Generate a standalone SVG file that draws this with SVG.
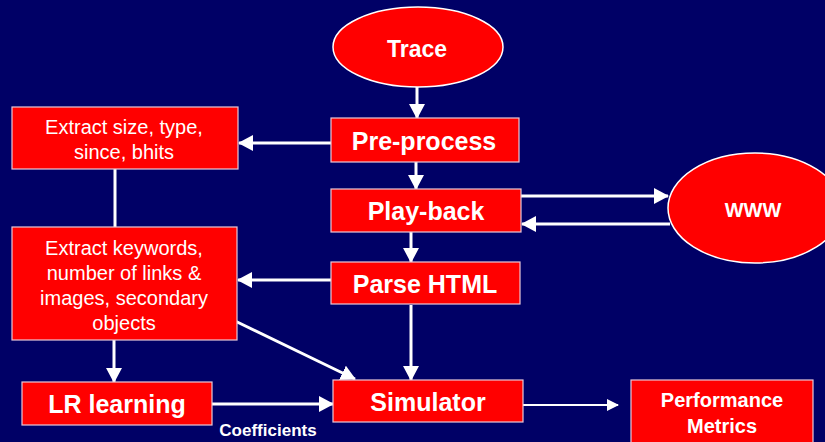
<svg xmlns="http://www.w3.org/2000/svg" width="825" height="442" viewBox="0 0 825 442">
  <style>
    .box { fill: #ff0000; stroke: #e8c8d8; stroke-width: 1.2; }
    .oval { fill: #ff0000; stroke: #ffffff; stroke-width: 1.5; }
    .t { fill: #ffffff; font-family: "Liberation Sans", Arial, sans-serif; text-anchor: middle; dominant-baseline: central; }
    .b { font-weight: bold; }
    .big { font-size: 25px; font-weight: bold; }
    .reg { font-size: 20px; }
    .wire { stroke: #ffffff; stroke-width: 3; fill: none; }
    .thin { stroke: #ffffff; stroke-width: 2; fill: none; }
  </style>
  <defs>
    <marker id="head" markerUnits="userSpaceOnUse" markerWidth="15" markerHeight="16" refX="14" refY="8" orient="auto">
      <path d="M0,0 L15,8 L0,16 Z" fill="#ffffff"/>
    </marker>
    <marker id="headSmall" markerUnits="userSpaceOnUse" markerWidth="12" markerHeight="12" refX="11" refY="6" orient="auto">
      <path d="M0,0 L12,6 L0,12 Z" fill="#ffffff"/>
    </marker>
  </defs>

  <rect width="825" height="442" fill="#000066"/>

  <g id="connectors">
    <line class="wire" x1="417" y1="87" x2="417" y2="118" marker-end="url(#head)"/>
    <line class="wire" x1="416" y1="162" x2="416" y2="189" marker-end="url(#head)"/>
    <line class="wire" x1="331" y1="143" x2="239" y2="143" marker-end="url(#head)"/>
    <line class="wire" x1="521" y1="196" x2="668" y2="196" marker-end="url(#head)"/>
    <line class="wire" x1="670" y1="224" x2="522" y2="224" marker-end="url(#head)"/>
    <line class="wire" x1="411" y1="232" x2="411" y2="262" marker-end="url(#head)"/>
    <line class="wire" x1="331" y1="280" x2="238" y2="280" marker-end="url(#head)"/>
    <line class="wire" x1="115" y1="169" x2="115" y2="227"/>
    <line class="wire" x1="114" y1="340" x2="114" y2="382" marker-end="url(#head)"/>
    <line class="wire" x1="233" y1="320" x2="355" y2="379" marker-end="url(#head)"/>
    <line class="wire" x1="411" y1="305" x2="411" y2="380" marker-end="url(#head)"/>
    <line class="wire" x1="212" y1="404" x2="333" y2="404" marker-end="url(#head)"/>
    <line class="thin" x1="523" y1="405" x2="618" y2="405" marker-end="url(#headSmall)"/>
    <text class="t b" x="268" y="430" font-size="17">Coefficients</text>
  </g>

  <g id="trace">
    <ellipse class="oval" cx="418" cy="47" rx="85" ry="40"/>
    <text class="t b" x="417" y="49" font-size="23">Trace</text>
  </g>

  <g id="preprocess">
    <rect class="box" x="331" y="118" width="188" height="44"/>
    <text class="t big" x="424" y="141">Pre-process</text>
  </g>

  <g id="playback">
    <rect class="box" x="331" y="189" width="190" height="43"/>
    <text class="t big" x="426" y="211">Play-back</text>
  </g>

  <g id="parse-html">
    <rect class="box" x="331" y="262" width="189" height="42"/>
    <text class="t big" x="425" y="284">Parse HTML</text>
  </g>

  <g id="www">
    <ellipse class="oval" cx="755" cy="208" rx="87" ry="55"/>
    <text class="t b" x="753" y="210" font-size="20">WWW</text>
  </g>

  <g id="extract-size">
    <rect class="box" x="12" y="107" width="226" height="62"/>
    <text class="t reg" x="124" y="127">Extract size, type,</text>
    <text class="t reg" x="124" y="152">since, bhits</text>
  </g>

  <g id="extract-keywords">
    <rect class="box" x="12" y="227" width="225" height="113"/>
    <text class="t reg" x="124" y="248">Extract keywords,</text>
    <text class="t reg" x="124" y="273">number of links &amp;</text>
    <text class="t reg" x="124" y="298">images, secondary</text>
    <text class="t reg" x="124" y="323">objects</text>
  </g>

  <g id="lr-learning">
    <rect class="box" x="22" y="382" width="190" height="43"/>
    <text class="t big" x="117" y="404">LR learning</text>
  </g>

  <g id="simulator">
    <rect class="box" x="333" y="380" width="190" height="42"/>
    <text class="t big" x="428" y="402">Simulator</text>
  </g>

  <g id="performance-metrics">
    <rect class="box" x="631" y="380" width="182" height="66"/>
    <text class="t b" x="722" y="400" font-size="20">Performance</text>
    <text class="t b" x="722" y="426" font-size="20">Metrics</text>
  </g>
</svg>
